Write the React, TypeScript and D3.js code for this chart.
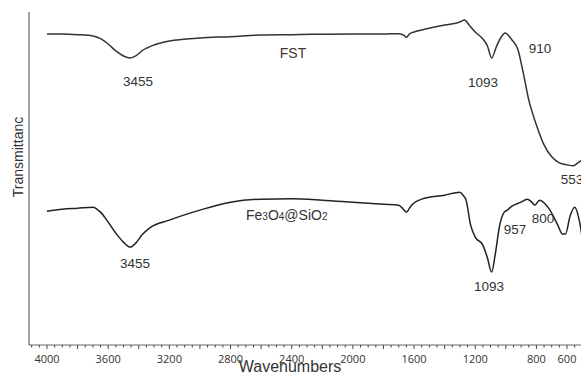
import React from "react";
import * as d3 from "d3";

const W = 581;
const H = 374;

// FST spectrum: [wavenumber, transmittance (a.u.)]
const fstWavenumbers = [4000, 3900, 3800, 3700, 3650, 3600, 3550, 3500, 3455, 3420, 3380, 3300, 3200, 3000, 2800, 2600, 2400, 2000, 1800, 1700, 1665, 1650, 1630, 1600, 1550, 1400, 1300, 1270, 1240, 1200, 1150, 1120, 1093, 1060, 1030, 1005, 960, 920, 890, 850, 800, 750, 700, 650, 600, 560, 530, 500];
const fstValues = [93.4, 93.4, 93.2, 92.8, 92.0, 90.4, 88.3, 86.8, 86.2, 86.8, 88.3, 90.1, 91.3, 92.2, 92.6, 93.1, 93.2, 93.4, 93.4, 93.5, 93.0, 92.4, 93.4, 94.0, 94.6, 96.1, 97.0, 97.6, 96.1, 94.0, 91.9, 89.8, 86.2, 89.8, 92.5, 93.7, 91.6, 88.6, 82.6, 73.6, 66.1, 60.1, 56.5, 54.7, 54.1, 53.8, 54.7, 55.6];

// Fe3O4@SiO2 spectrum
const feWavenumbers = [4000, 3900, 3800, 3700, 3650, 3600, 3550, 3500, 3455, 3420, 3380, 3330, 3200, 3000, 2800, 2600, 2400, 2200, 2000, 1800, 1700, 1665, 1650, 1630, 1610, 1550, 1400, 1300, 1280, 1260, 1230, 1200, 1150, 1120, 1093, 1070, 1040, 1010, 990, 960, 900, 860, 830, 810, 780, 720, 660, 630, 610, 580, 550, 520, 500];
const feValues = [40.2, 40.8, 41.1, 41.4, 39.9, 36.9, 33.6, 30.9, 29.4, 30.6, 33.0, 35.1, 37.5, 40.5, 42.9, 43.8, 43.9, 43.5, 42.9, 42.3, 42.0, 40.5, 39.9, 41.1, 42.3, 43.8, 45.0, 45.9, 45.0, 43.5, 36.0, 32.4, 30.0, 26.1, 21.9, 27.0, 36.0, 39.9, 40.5, 41.7, 42.9, 43.8, 42.9, 42.0, 43.5, 41.1, 36.0, 33.3, 33.3, 38.7, 41.4, 37.5, 32.1];

const xTickLabels = [4000, 3600, 3200, 2800, 2400, 2000, 1600, 1200, 800, 600];

const peakLabels = [
  { text: "3455", w: 3405, v: 77.8 },
  { text: "1093", w: 1149, v: 77.5 },
  { text: "910", w: 777, v: 87.7 },
  { text: "553", w: 567, v: 48.3 },
  { text: "3455", w: 3425, v: 23.1 },
  { text: "1093", w: 1110, v: 16.2 },
  { text: "957", w: 940, v: 33.3 },
  { text: "800", w: 757, v: 36.6 },
];

export default function App() {
  const left = 29;
  const top = 12;
  const bottom = 345;

  const x = d3.scaleLinear().domain([4000, 600]).range([47, 567]);
  const y = d3.scaleLinear().domain([0, 100]).range([bottom, top]);

  const line = d3
    .line<[number, number]>()
    .x((d) => x(d[0]))
    .y((d) => y(d[1]))
    .curve(d3.curveMonotoneX);

  const fst = fstWavenumbers.map((w, i) => [w, fstValues[i]] as [number, number]);
  const fe = feWavenumbers.map((w, i) => [w, feValues[i]] as [number, number]);

  const minorTicks = d3.range(4100, 499, -50);

  const font = "Liberation Sans, Arial, sans-serif";

  return (
    <svg width={W} height={H} style={{ position: "absolute", left: 0, top: 0, background: "#fff" }}>
      <defs>
        <clipPath id="plot">
          <rect x={left} y={0} width={W - left} height={bottom} />
        </clipPath>
      </defs>
      {/* axes */}
      <line x1={left} y1={top} x2={left} y2={bottom} stroke="#666" strokeWidth={1.2} />
      <line x1={left} y1={bottom} x2={W} y2={bottom} stroke="#666" strokeWidth={1.2} />
      {minorTicks.map((t) => {
        const px = x(t);
        if (px < left || px > W) return null;
        const major = t % 200 === 0;
        return <line key={t} x1={px} x2={px} y1={bottom} y2={bottom + (major ? 4 : 2.5)} stroke="#444" strokeWidth={1} />;
      })}
      {xTickLabels.map((t) => (
        <text key={t} x={x(t)} y={363} fontSize={11} fontFamily="Open Sans, sans-serif" textAnchor="middle" fill="#333">
          {t}
        </text>
      ))}
      <text x={290} y={372} fontSize={16} fontFamily={font} textAnchor="middle" fill="#333">
        Wavenumbers
      </text>
      <text
        transform={`translate(23,157) rotate(-90)`}
        fontSize={14}
        fontFamily={font}
        textAnchor="middle"
        fill="#333"
      >
        Transmittanc
      </text>

      <g clipPath="url(#plot)">
        <path d={line(fst) || ""} fill="none" stroke="#333" strokeWidth={1.5} />
        <path d={line(fe) || ""} fill="none" stroke="#222" strokeWidth={1.5} />
      </g>

      {peakLabels.map((p, i) => (
        <text key={i} x={x(p.w)} y={y(p.v)} fontSize={13.5} fontFamily={font} textAnchor="middle" fill="#333">
          {p.text}
        </text>
      ))}
      <text x={293} y={58} fontSize={14} fontFamily={font} textAnchor="middle" fill="#4a3232">
        FST
      </text>
      <text x={246} y={220} fontSize={14} fontFamily={font} fill="#333">
        Fe<tspan fontSize={10}>3</tspan>O<tspan fontSize={10}>4</tspan>@SiO<tspan fontSize={10}>2</tspan>
      </text>
    </svg>
  );
}
